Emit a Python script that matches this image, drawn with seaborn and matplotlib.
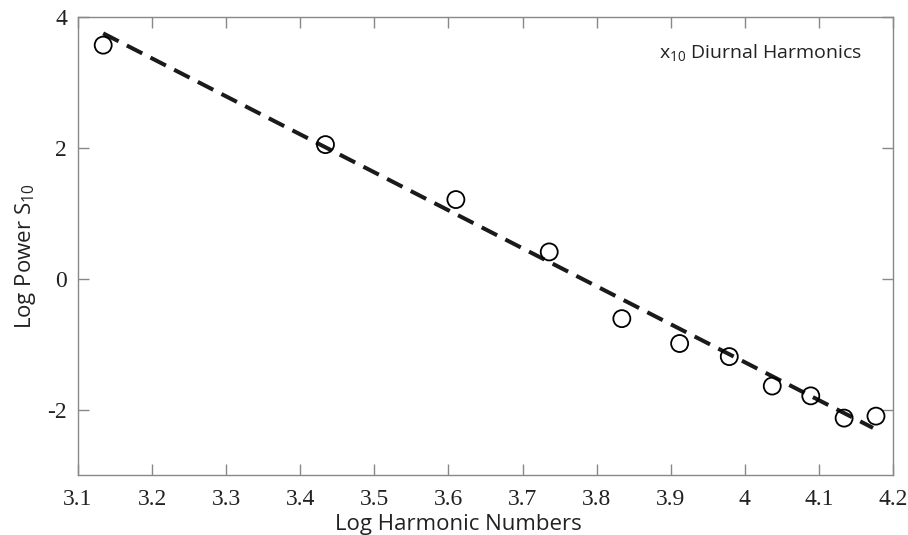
import numpy as np
import pandas as pd
import matplotlib
matplotlib.use("Agg")
import matplotlib.pyplot as plt
import seaborn as sns

# Data
log_harmonic = [3.134, 3.434, 3.610, 3.736, 3.834, 3.912, 3.979, 4.037, 4.089, 4.134, 4.177]
log_power = [3.57, 2.05, 1.21, 0.41, -0.61, -0.99, -1.19, -1.64, -1.79, -2.13, -2.10]

# Fitted line end points
fit_x = [3.134, 4.173]
fit_y = [3.75, -2.28]

sns.set_theme(style="ticks")
plt.rcParams["font.family"] = ["Open Sans", "DejaVu Sans"]
plt.rcParams["mathtext.fontset"] = "custom"
plt.rcParams["mathtext.rm"] = "Open Sans"
plt.rcParams["mathtext.it"] = "Open Sans"

points = pd.DataFrame({"x": log_harmonic, "y": log_power})
fit = pd.DataFrame({"x": fit_x, "y": fit_y})

fig = plt.figure(figsize=(9.08, 5.35), dpi=100)
ax = fig.add_axes([0.0859, 0.1121, 0.8976, 0.8561])

sns.lineplot(data=fit, x="x", y="y", ax=ax, color="#1a1a1a", linewidth=2.9,
             linestyle=(0, (4.3, 2.3)))
sns.scatterplot(data=points, x="x", y="y", ax=ax, s=150, facecolor="none",
                edgecolor="black", linewidth=1.3, zorder=3)

ax.set_xlim(3.1, 4.2)
ax.set_ylim(-3, 4)
ax.set_xticks([3.1, 3.2, 3.3, 3.4, 3.5, 3.6, 3.7, 3.8, 3.9, 4.0, 4.1, 4.2])
ax.set_xticklabels(["3.1", "3.2", "3.3", "3.4", "3.5", "3.6", "3.7", "3.8",
                    "3.9", "4", "4.1", "4.2"])
ax.set_yticks([-2, 0, 2, 4])
ax.set_yticklabels(["-2", "0", "2", "4"])

for s in ax.spines.values():
    s.set_color("#888888")
    s.set_linewidth(1.0)
    s.set_visible(True)
ax.tick_params(direction="in", length=8, width=1.0, color="#888888",
               top=True, right=True, labelsize=17, labelcolor="#222222")
ax.tick_params(axis="x", pad=10)
ax.tick_params(axis="y", pad=8)
for lab in ax.get_xticklabels() + ax.get_yticklabels():
    lab.set_family("Liberation Serif")

ax.set_xlabel("Log Harmonic Numbers", fontsize=16, color="#222222")
ax.set_ylabel("Log Power S$_{10}$", fontsize=16, color="#222222")
ax.xaxis.set_label_coords(0.467, -0.085)
ax.yaxis.set_label_coords(-0.049, 0.478)

ax.text(0.962, 0.923, "x$_{10}$ Diurnal Harmonics", transform=ax.transAxes,
        ha="right", va="center", fontsize=14, color="#222222")

fig.savefig("out.png", dpi=100)
